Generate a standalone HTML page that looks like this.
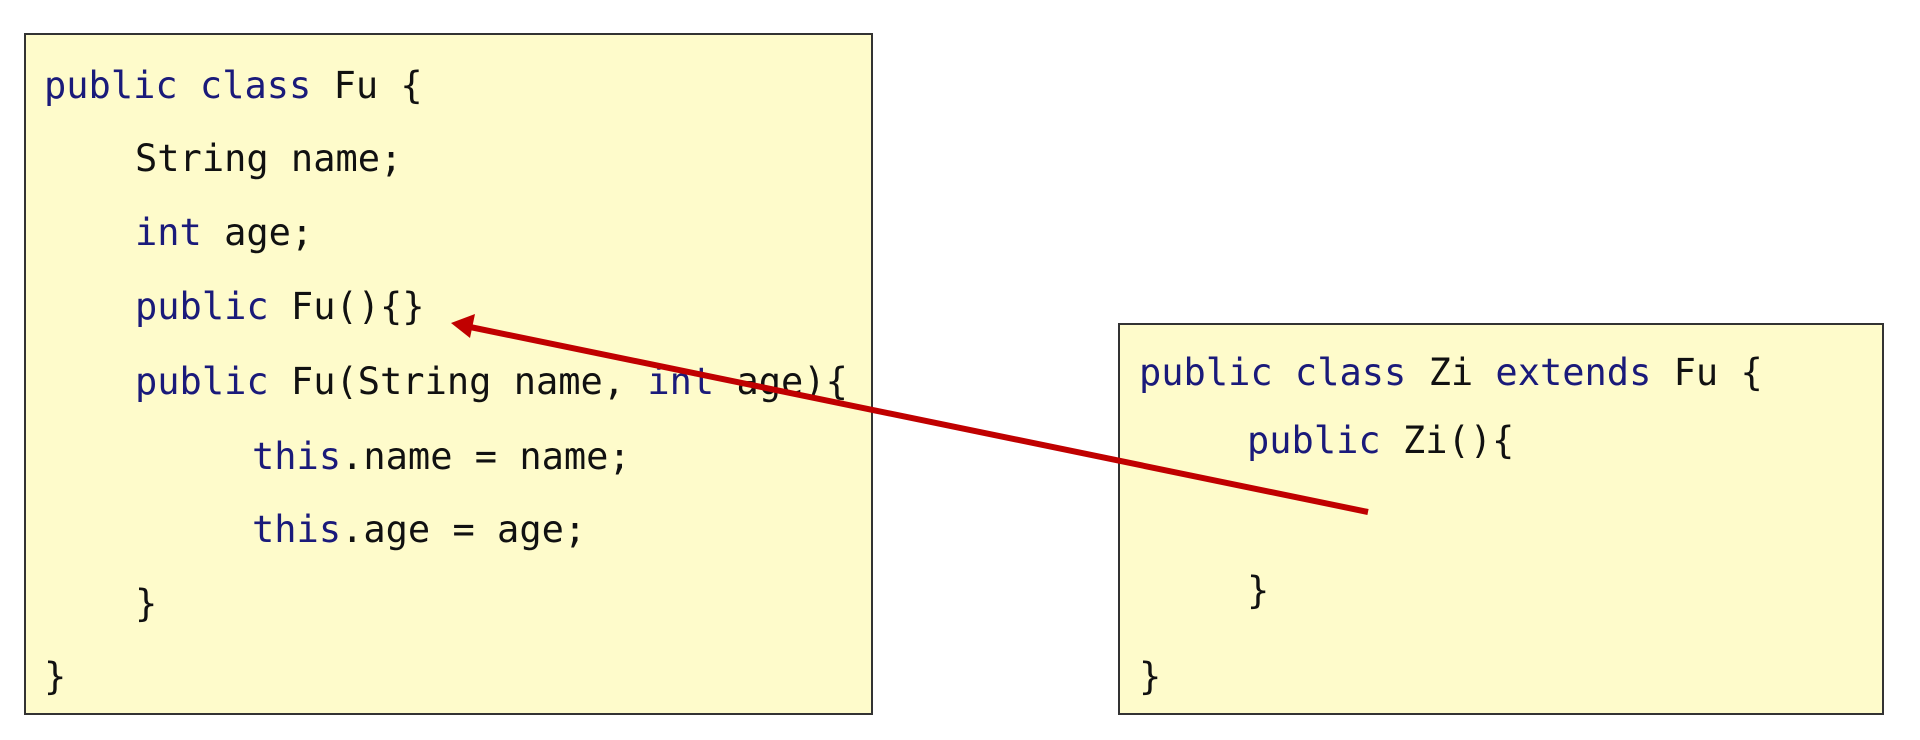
<!DOCTYPE html>
<html><head><meta charset="utf-8"><style>
html,body{margin:0;padding:0;background:#fff;width:1920px;height:740px;overflow:hidden;position:relative}
.box{position:absolute;background:#fefbcb;border:2px solid #333;box-sizing:border-box}
.t{position:absolute;font-family:"DejaVu Sans Mono","Liberation Mono",monospace;font-size:37px;color:#111;white-space:pre;line-height:44px;transform:translateY(-22px)}
.k{color:#1a1a7a}
svg{position:absolute;left:0;top:0}
</style></head><body>
<div class="box" style="left:24px;top:33px;width:849px;height:682px"></div>
<div class="box" style="left:1118px;top:323px;width:766px;height:392px"></div>
<div class="t" style="left:44px;top:86px"><span class="k">public class</span> Fu {</div>
<div class="t" style="left:135px;top:159px">String name;</div>
<div class="t" style="left:135px;top:233px"><span class="k">int</span> age;</div>
<div class="t" style="left:135px;top:307px"><span class="k">public</span> Fu(){}</div>
<div class="t" style="left:135px;top:382px"><span class="k">public</span> Fu(String name, <span class="k">int</span> age){</div>
<div class="t" style="left:252px;top:457px"><span class="k">this</span>.name = name;</div>
<div class="t" style="left:252px;top:530px"><span class="k">this</span>.age = age;</div>
<div class="t" style="left:135px;top:604px">}</div>
<div class="t" style="left:44px;top:677px">}</div>
<div class="t" style="left:1139px;top:373px"><span class="k">public class</span> Zi <span class="k">extends</span> Fu {</div>
<div class="t" style="left:1247px;top:441px"><span class="k">public</span> Zi(){</div>
<div class="t" style="left:1247px;top:591px">}</div>
<div class="t" style="left:1139px;top:677px">}</div>
<svg width="1920" height="740">
<line x1="1368" y1="512" x2="470" y2="327" stroke="#c00000" stroke-width="6"/>
<polygon points="451,323 475,314 470,338" fill="#c00000"/>
</svg>
</body></html>
